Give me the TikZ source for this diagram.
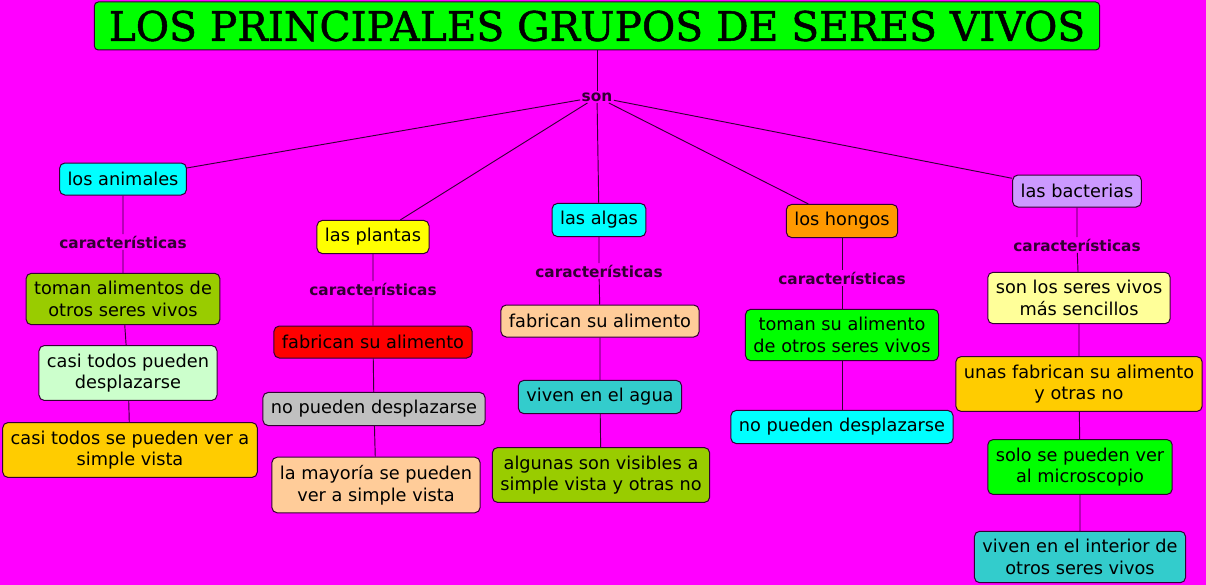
\documentclass[tikz,border=0pt]{standalone}
\usepackage{fontspec}
\setmainfont{DejaVu Sans}
\newfontfamily\titlefont[FakeBold=1.2]{DejaVu Serif}
\usetikzlibrary{positioning}
\definecolor{mapbg}{HTML}{FF00FF}
\definecolor{edge}{HTML}{330033}
\definecolor{linktext}{HTML}{330033}
\definecolor{cgreen}{HTML}{00FF00}
\definecolor{ccyan}{HTML}{00FFFF}
\definecolor{cyellow}{HTML}{FFFF00}
\definecolor{corange}{HTML}{FF9900}
\definecolor{clilac}{HTML}{CC99FF}
\definecolor{colive}{HTML}{99CC00}
\definecolor{cmint}{HTML}{CCFFCC}
\definecolor{cgold}{HTML}{FFCC00}
\definecolor{cred}{HTML}{FF0000}
\definecolor{cgrey}{HTML}{C0C0C0}
\definecolor{cpeach}{HTML}{FFCC99}
\definecolor{cteal}{HTML}{33CCCC}
\definecolor{ccream}{HTML}{FFFF99}
\tikzset{
    conceptmap/.style={x=0.75pt, y=-0.75pt, font=\fontsize{13.3}{16.3}\selectfont},
    concept/.style={draw=edge, line width=0.75pt, rounded corners=4pt, align=center,
        inner xsep=6pt, inner ysep=6pt, minimum height=24pt},
    maintitle/.style={concept, fill=cgreen, rounded corners=3pt, inner ysep=2pt,
        minimum width=754pt, minimum height=36pt,
        font=\titlefont\fontsize{30.5}{31}\selectfont},
    % linking words sit on the connector, no fill
    linkword/.style={font=\fontsize{11.5}{13}\selectfont\bfseries, text=linktext, inner sep=1pt},
    link/.style={draw=edge, line width=0.7pt},
}

\begin{document}
\begin{tikzpicture}[conceptmap]
    \fill[mapbg] (0,0) rectangle (1206,585);
    \useasboundingbox (0,0) rectangle (1206,585);

    \node[maintitle]                 (title) at (597,26)  {LOS PRINCIPALES GRUPOS DE SERES VIVOS};
    \node[linkword]                  (son)   at (597,97)  {son};

    \node[concept, fill=ccyan]       (anim)  at (123,179) {los animales};
    \node[concept, fill=cyellow]     (plan)  at (373,237) {las plantas};
    \node[concept, fill=ccyan]       (alga)  at (599,220) {las algas};
    \node[concept, fill=corange]     (hong)  at (842,221) {los hongos};
    \node[concept, fill=clilac]      (bact)  at (1077,191) {las bacterias};

    \node[linkword] (anim-c) at (123,242)  {características};
    \node[linkword] (plan-c) at (373,289)  {características};
    \node[linkword] (alga-c) at (599,271)  {características};
    \node[linkword] (hong-c) at (842,278)  {características};
    \node[linkword] (bact-c) at (1077,245) {características};

    \node[concept, fill=colive]  (anim1) at (123,299) {toman alimentos de\\ otros seres vivos};
    \node[concept, fill=cmint]   (anim2) at (128,373) {casi todos pueden\\ desplazarse};
    \node[concept, fill=cgold]   (anim3) at (130,450) {casi todos se pueden ver a\\ simple vista};

    \node[concept, fill=cred]    (plan1) at (373,342) {fabrican su alimento};
    \node[concept, fill=cgrey]   (plan2) at (374,409) {no pueden desplazarse};
    \node[concept, fill=cpeach]  (plan3) at (376,485) {la mayoría se pueden\\ ver a simple vista};

    \node[concept, fill=cpeach]  (alga1) at (600,321) {fabrican su alimento};
    \node[concept, fill=cteal]   (alga2) at (600,397) {viven en el agua};
    \node[concept, fill=colive]  (alga3) at (601,475) {algunas son visibles a\\ simple vista y otras no};

    \node[concept, fill=cgreen]  (hong1) at (842,335) {toman su alimento\\ de otros seres vivos};
    \node[concept, fill=ccyan]   (hong2) at (842,427) {no pueden desplazarse};

    \node[concept, fill=ccream]  (bact1) at (1079,298) {son los seres vivos\\ más sencillos};
    \node[concept, fill=cgold]   (bact2) at (1079,384) {unas fabrican su alimento\\ y otras no};
    \node[concept, fill=cgreen]  (bact3) at (1080,467) {solo se pueden ver\\ al microscopio};
    \node[concept, fill=cteal]   (bact4) at (1080,557) {viven en el interior de\\ otros seres vivos};

    \draw[link] (title) -- (son);
    \foreach \g in {anim, plan, alga, hong, bact}
        \draw[link] (son) -- (\g);

    \draw[link] (anim) -- (anim-c) -- (anim1) -- (anim2) -- (anim3);
    \draw[link] (plan) -- (plan-c) -- (plan1) -- (plan2) -- (plan3);
    \draw[link] (alga) -- (alga-c) -- (alga1) -- (alga2) -- (alga3);
    \draw[link] (hong) -- (hong-c) -- (hong1) -- (hong2);
    \draw[link] (bact) -- (bact-c) -- (bact1) -- (bact2) -- (bact3) -- (bact4);
\end{tikzpicture}
\end{document}
